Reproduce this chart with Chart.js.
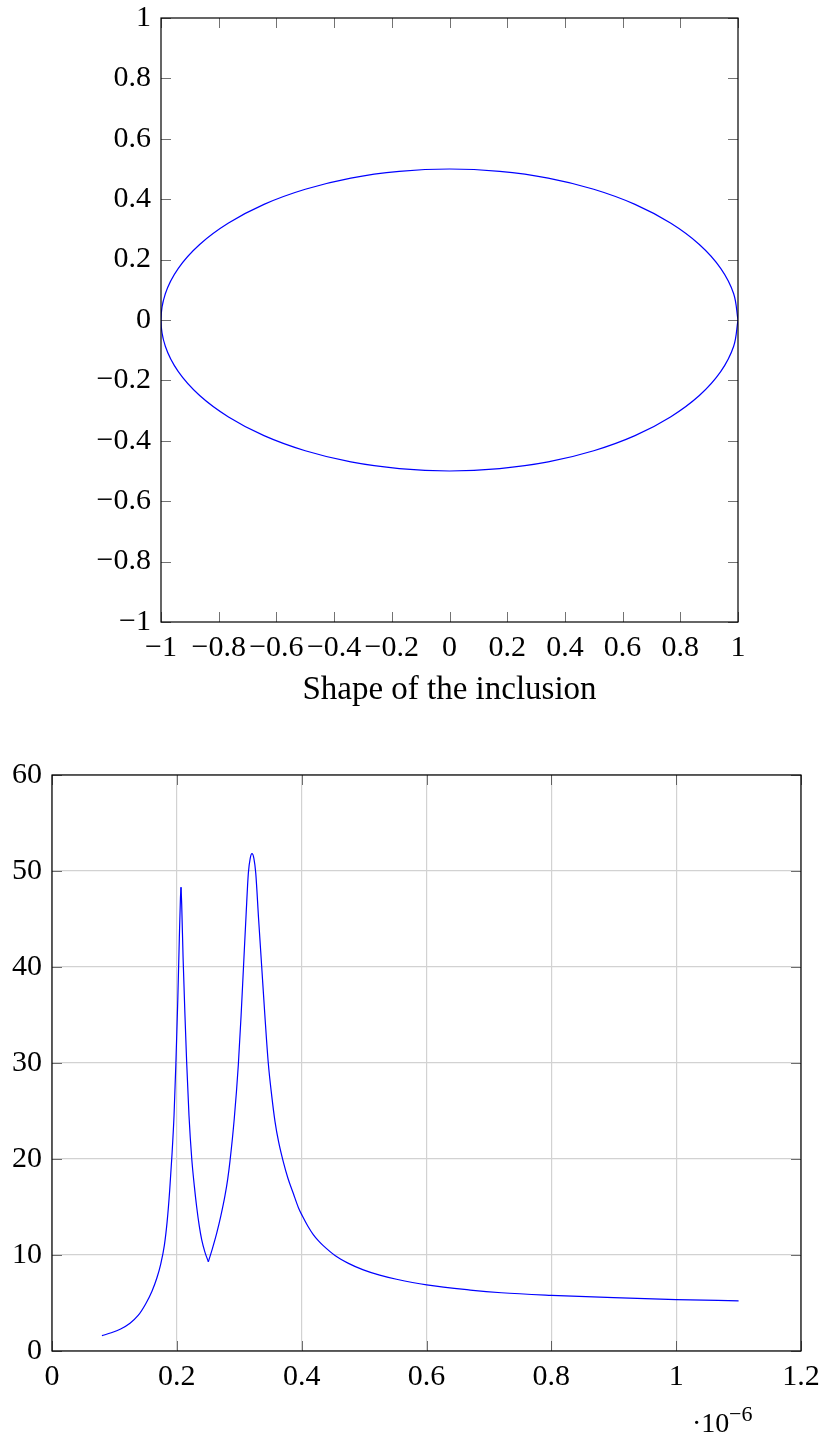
<!DOCTYPE html>
<html>
<head>
<meta charset="utf-8">
<script src="https://cdn.jsdelivr.net/npm/chart.js@4/dist/chart.umd.min.js"></script>
<style>
  html, body { margin: 0; padding: 0; background: #fff; }
  .box { position: relative; width: 825px; }
  #shape-box { height: 720px; }
  #spectrum-box { height: 716px; }
</style>
</head>
<body>
<div class="box" id="shape-box"><canvas id="shape-chart"></canvas></div>
<div class="box" id="spectrum-box"><canvas id="spectrum-chart"></canvas></div>
<script>
// shape of the inclusion (ellipse outline)
var shapeX = [1, 0.985, 0.940, 0.866, 0.766, 0.643, 0.500, 0.342, 0.174, 0,
  -0.174, -0.342, -0.500, -0.643, -0.766, -0.866, -0.940, -0.985, -1,
  -0.985, -0.940, -0.866, -0.766, -0.643, -0.500, -0.342, -0.174, 0,
  0.174, 0.342, 0.500, 0.643, 0.766, 0.866, 0.940, 0.985, 1];
var shapeY = [0, 0.087, 0.171, 0.250, 0.321, 0.383, 0.433, 0.470, 0.492, 0.500,
  0.492, 0.470, 0.433, 0.383, 0.321, 0.250, 0.171, 0.087, 0,
  -0.087, -0.171, -0.250, -0.321, -0.383, -0.433, -0.470, -0.492, -0.500,
  -0.492, -0.470, -0.433, -0.383, -0.321, -0.250, -0.171, -0.087, 0];

// spectrum: x in metres, y value
var lambda = [0.080e-6, 0.095e-6, 0.110e-6, 0.125e-6, 0.138e-6, 0.150e-6, 0.160e-6, 0.168e-6,
  0.174e-6, 0.180e-6, 0.1845e-6, 0.1885e-6, 0.1920e-6, 0.1955e-6, 0.1985e-6, 0.2015e-6,
  0.2040e-6, 0.2058e-6, 0.2067e-6, 0.2078e-6, 0.2100e-6, 0.2130e-6, 0.2158e-6, 0.2195e-6,
  0.2238e-6, 0.2280e-6, 0.2318e-6, 0.2360e-6, 0.2398e-6, 0.2450e-6, 0.2505e-6, 0.2570e-6,
  0.2640e-6, 0.2705e-6, 0.2772e-6, 0.2815e-6, 0.2852e-6, 0.2920e-6, 0.2985e-6, 0.3030e-6,
  0.3068e-6, 0.3110e-6, 0.3146e-6, 0.3175e-6, 0.3204e-6, 0.3235e-6, 0.3264e-6, 0.3310e-6,
  0.3360e-6, 0.3410e-6, 0.3465e-6, 0.3520e-6, 0.3573e-6, 0.3630e-6, 0.3706e-6, 0.3780e-6,
  0.3867e-6, 0.3950e-6, 0.4010e-6, 0.4100e-6, 0.4186e-6, 0.4270e-6, 0.4350e-6, 0.4534e-6,
  0.4750e-6, 0.4988e-6, 0.525e-6, 0.552e-6, 0.6003e-6, 0.670e-6, 0.720e-6, 0.800e-6,
  0.900e-6, 1.000e-6, 1.100e-6];
var response = [1.6, 1.9, 2.3, 2.9, 3.7, 4.9, 6.2, 7.6,
  9.0, 11.0, 13.5, 16.7, 20.2, 24.5, 30.0, 36.5,
  43.0, 47.2, 48.3, 46.5, 41.0, 35.0, 30.0, 24.5,
  20.1, 17.2, 15.0, 13.0, 11.6, 10.3, 9.3, 10.67,
  12.3, 14.07, 16.2, 17.9, 19.8, 24.2, 29.8, 35.0,
  40.0, 45.5, 49.8, 51.3, 51.8, 51.3, 49.8, 45.0,
  40.0, 35.0, 30.0, 26.6, 23.9, 21.8, 19.7, 18.0,
  16.4, 14.9, 14.08, 13.0, 12.13, 11.47, 10.95, 9.95,
  9.13, 8.45, 7.9, 7.47, 6.88, 6.35, 6.07, 5.8,
  5.55, 5.35, 5.23];
// indices where the curve has a sharp corner (first peak, the dip)
var corners = [18, 30];

var shapeXTicks = [-1, -0.8, -0.6, -0.4, -0.2, 0, 0.2, 0.4, 0.6, 0.8, 1];
var spectrumYTicks = [0, 10, 20, 30, 40, 50, 60];

var serif = "'Liberation Serif', 'DejaVu Serif', serif";

function minusLabel(v) {
  var s = Math.round(v * 10) / 10;
  return s < 0 ? '\u2212' + (-s) : String(s);
}

function pairs(xs, ys) {
  var out = [];
  for (var i = 0; i < xs.length; i++) out.push({ x: xs[i], y: ys[i] });
  return out;
}

// split the curve at the corners so the smoothing keeps them sharp
function pieces(xs, ys, cuts) {
  var all = pairs(xs, ys);
  var bounds = [0].concat(cuts, [all.length - 1]);
  var sets = [];
  for (var i = 0; i < bounds.length - 1; i++) {
    sets.push({
      data: all.slice(bounds[i], bounds[i + 1] + 1),
      showLine: true,
      borderColor: '#0000ff',
      borderWidth: 1.2,
      pointRadius: 0,
      cubicInterpolationMode: 'monotone'
    });
  }
  return sets;
}

function noOverhang(s) {
  s.paddingTop = 0; s.paddingBottom = 0;
  s.paddingLeft = 0; s.paddingRight = 0;
}

// pgfplots style ticks: drawn inward on all four sides
var innerTicks = {
  id: 'innerTicks',
  afterDatasetsDraw: function(chart) {
    var a = chart.chartArea;
    var c = chart.ctx;
    var len = 10;
    c.save();
    c.strokeStyle = 'rgba(0,0,0,0.55)';
    c.lineWidth = 1;
    chart.scales.x.ticks.forEach(function(t) {
      var px = Math.round(chart.scales.x.getPixelForValue(t.value)) + 0.5;
      c.beginPath();
      c.moveTo(px, a.bottom); c.lineTo(px, a.bottom - len);
      c.moveTo(px, a.top); c.lineTo(px, a.top + len);
      c.stroke();
    });
    chart.scales.y.ticks.forEach(function(t) {
      var py = Math.round(chart.scales.y.getPixelForValue(t.value)) + 0.5;
      c.beginPath();
      c.moveTo(a.left, py); c.lineTo(a.left + len, py);
      c.moveTo(a.right, py); c.lineTo(a.right - len, py);
      c.stroke();
    });
    // frame
    c.strokeStyle = '#000';
    c.lineWidth = 1.2;
    c.strokeRect(a.left, a.top, a.right - a.left, a.bottom - a.top);
    c.restore();
  }
};

// the ·10^-6 multiplier under the x axis
var scaleNote = {
  id: 'scaleNote',
  afterDraw: function(chart) {
    var c = chart.ctx;
    c.save();
    c.fillStyle = '#000';
    c.textBaseline = 'alphabetic';
    c.textAlign = 'left';
    c.font = '28px ' + serif;
    c.fillText('\u00b710', 692, 712);
    c.font = '22px ' + serif;
    c.fillText('\u22126', 729, 701);
    c.restore();
  }
};

new Chart(document.getElementById('shape-chart'), {
  type: 'scatter',
  data: {
    datasets: [{
      data: pairs(shapeX, shapeY),
      showLine: true,
      borderColor: '#0000ff',
      borderWidth: 1.2,
      pointRadius: 0,
      tension: 0.35
    }]
  },
  options: {
    responsive: true,
    maintainAspectRatio: false,
    animation: false,
    layout: { padding: { top: 18, right: 87, left: 0, bottom: 0 } },
    plugins: { legend: { display: false }, tooltip: { enabled: false } },
    scales: {
      x: {
        type: 'linear', min: -1, max: 1,
        afterBuildTicks: function(s) { s.ticks = shapeXTicks.map(function(v) { return { value: v }; }); },
        afterFit: function(s) { s.height = 98; noOverhang(s); },
        grid: { display: false, drawTicks: false },
        border: { display: false },
        ticks: {
          autoSkip: false, maxRotation: 0, padding: 8, color: '#000',
          font: { family: serif, size: 30 },
          callback: minusLabel
        },
        title: {
          display: true, text: 'Shape of the inclusion', color: '#000',
          font: { family: serif, size: 33 },
          padding: { top: 0, bottom: 10 }
        }
      },
      y: {
        type: 'linear', min: -1, max: 1,
        ticks: {
          stepSize: 0.2, padding: 10, color: '#000',
          font: { family: serif, size: 30 },
          callback: minusLabel
        },
        afterFit: function(s) { s.width = 161; noOverhang(s); },
        grid: { display: false, drawTicks: false },
        border: { display: false }
      }
    }
  },
  plugins: [innerTicks]
});

new Chart(document.getElementById('spectrum-chart'), {
  type: 'scatter',
  data: { datasets: pieces(lambda, response, corners) },
  options: {
    responsive: true,
    maintainAspectRatio: false,
    animation: false,
    layout: { padding: { top: 55, right: 24, left: 0, bottom: 0 } },
    plugins: { legend: { display: false }, tooltip: { enabled: false } },
    scales: {
      x: {
        type: 'linear', min: 0, max: 1.2e-6,
        ticks: {
          stepSize: 0.2e-6, autoSkip: false, maxRotation: 0, padding: 8, color: '#000',
          font: { family: serif, size: 30 },
          callback: function(v) { return String(Math.round(v * 1e7) / 10); }
        },
        afterFit: function(s) { s.height = 85; noOverhang(s); },
        grid: { color: 'rgb(210,210,210)', lineWidth: 1.2, drawTicks: false },
        border: { display: false }
      },
      y: {
        type: 'linear', min: 0, max: 60,
        afterBuildTicks: function(s) { s.ticks = spectrumYTicks.map(function(v) { return { value: v }; }); },
        ticks: {
          padding: 10, color: '#000',
          font: { family: serif, size: 30 }
        },
        afterFit: function(s) { s.width = 52; noOverhang(s); },
        grid: { color: 'rgb(210,210,210)', lineWidth: 1.2, drawTicks: false },
        border: { display: false }
      }
    }
  },
  plugins: [innerTicks, scaleNote]
});
</script>
</body>
</html>
